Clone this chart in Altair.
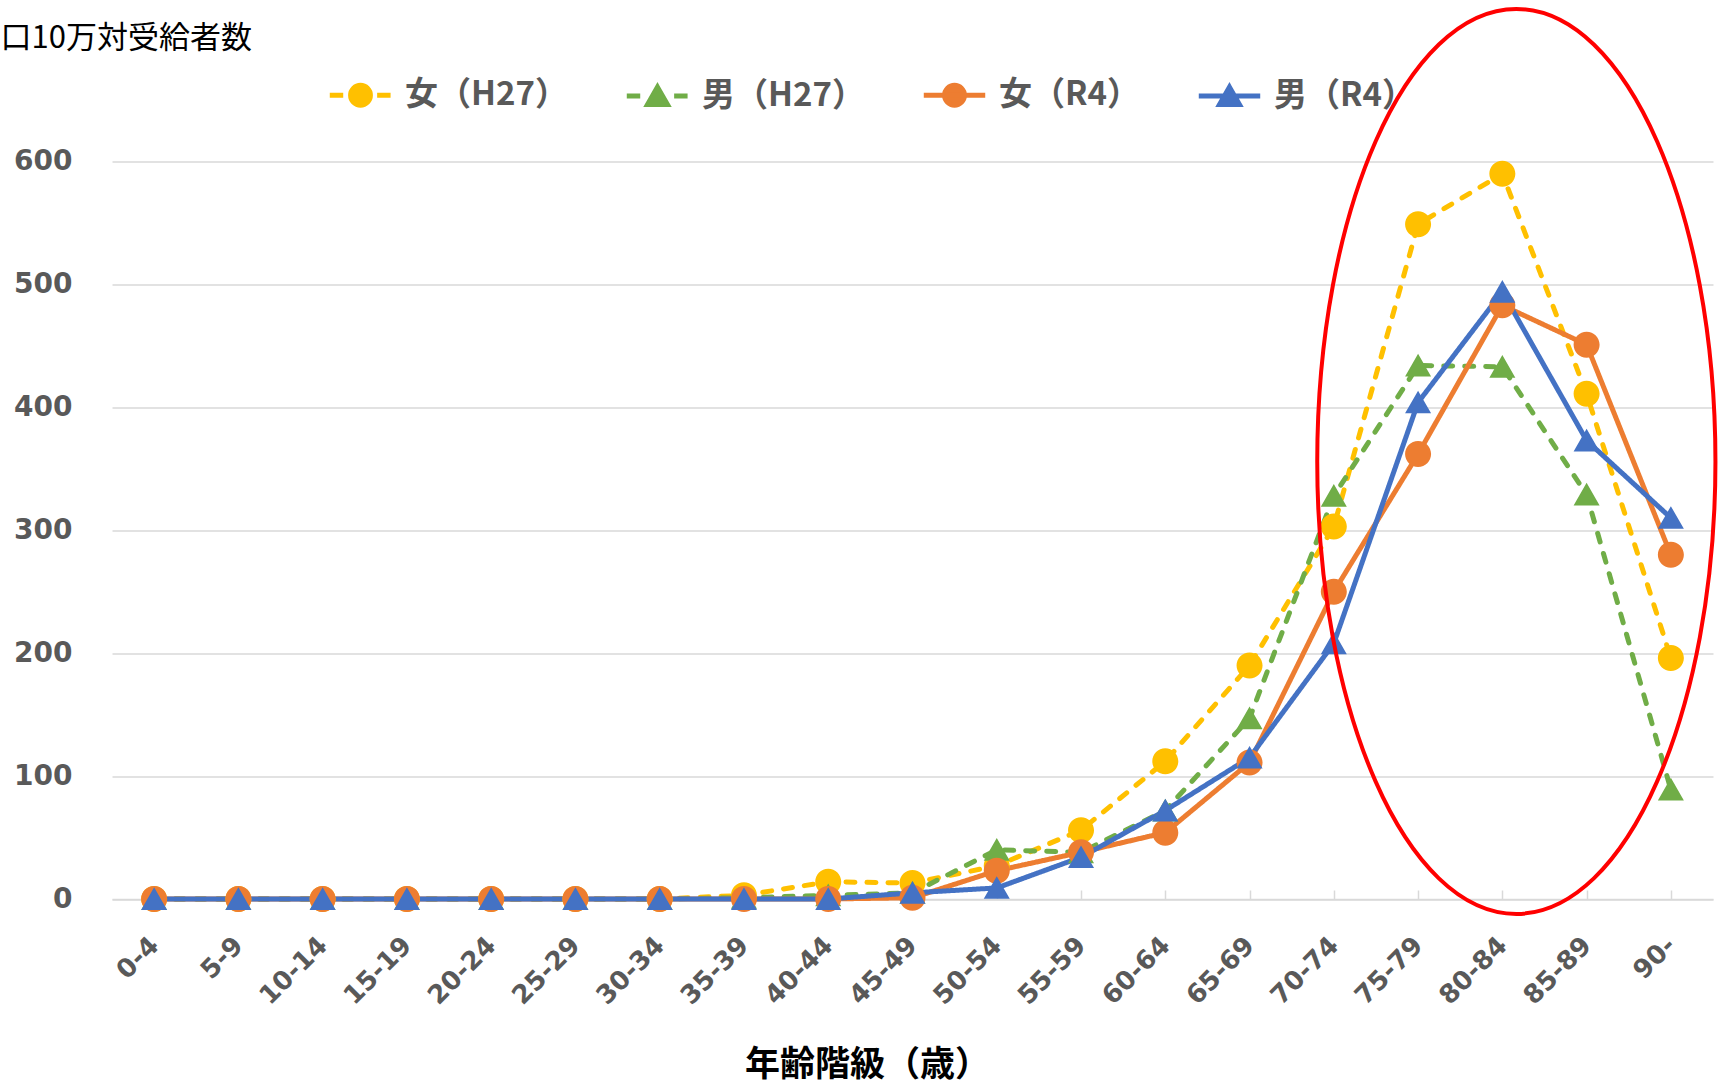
import altair as alt
import pandas as pd

# ---------------- data ----------------
ages = ["0-4", "5-9", "10-14", "15-19", "20-24", "25-29", "30-34", "35-39",
        "40-44", "45-49", "50-54", "55-59", "60-64", "65-69", "70-74",
        "75-79", "80-84", "85-89", "90-"]
series_names = ["女（H27）", "男（H27）", "女（R4）", "男（R4）"]
series_colors = ["#FFC000", "#70AD47", "#ED7D31", "#4472C4"]
series_dashes = [[9, 12], [9, 12], [1, 0], [1, 0]]

f_h27 = [0, 0, 0, 0, 0, 0, 0, 3, 14, 13, 27, 56, 112, 190, 303, 549, 590, 411, 196]
m_h27 = [0, 0, 0, 0, 0, 0, 0, 1, 3, 5, 40, 38, 72, 147, 328, 434, 433, 329, 89]
f_r4 = [0, 0, 0, 0, 0, 0, 0, 0, 0, 1, 23, 38, 54, 111, 250, 362, 483, 451, 280]
m_r4 = [0, 0, 0, 0, 0, 0, 0, 0, 0, 5, 9, 34, 72, 115, 208, 404, 494, 373, 310]

y_ticks = [0, 100, 200, 300, 400, 500, 600]

# annotation ellipse (centre in data units)
ellipse_age = "80-84"
ellipse_value = 356

y_title = "口10万対受給者数"
x_title = "年齢階級（歳）"

# ---------------- table ----------------
rows = []
for s, vals in zip(series_names, [f_h27, m_h27, f_r4, m_r4]):
    for i, (a, v) in enumerate(zip(ages, vals)):
        rows.append({"series": s, "age": a, "idx": i, "value": v})
df = pd.DataFrame(rows)
ell_df = pd.DataFrame({"age": [ellipse_age], "value": [ellipse_value]})

CJK = "Noto Sans CJK JP"
NUM = "DejaVu Sans"
GRAY = "#595959"
LIGHT = "#D9D9D9"

# ---------------- symbol paths (marker + legend line) ----------------
circ = ("M0.31,0C0.31,0.171 0.171,0.31 0,0.31C-0.171,0.31 -0.31,0.171 -0.31,0"
        "C-0.31,-0.171 -0.171,-0.31 0,-0.31C0.171,-0.31 0.31,-0.171 0.31,0Z")
tri = "M0,-0.28L0.31,0.26L-0.31,0.26Z"
dashed = "M-0.96,0L-0.54,0M0.52,0L0.94,0"
solid = "M-0.96,0L0.96,0"
symbol_paths = [dashed + circ, dashed + tri, solid + circ, solid + tri]

k = 0.5523
ex = 0.44
ellipse_path = (
    f"M0,-1C{ex*k:.4f},-1 {ex},{-k} {ex},0"
    f"C{ex},{k} {ex*k:.4f},1 0,1"
    f"C{-ex*k:.4f},1 {-ex},{k} {-ex},0"
    f"C{-ex},{-k} {-ex*k:.4f},-1 0,-1Z"
)

legend = alt.Legend(
    title=None,
    orient="none",
    legendX=214,
    legendY=-101,
    direction="horizontal",
    labelFont=CJK,
    labelFontSize=33,
    labelFontWeight="bold",
    labelColor=GRAY,
    labelLimit=400,
    labelOffset=10,
    columnPadding=48,
    padding=0,
    symbolSize=4096,
    symbolStrokeWidth=5,
    symbolOpacity=1,
)

# ---------------- scales / axes ----------------
x_scale = alt.Scale(type="point", domain=ages, padding=0.5)
y_scale = alt.Scale(domain=[0, 600], nice=False, zero=True)
color_scale = alt.Scale(domain=series_names, range=series_colors)
shape_scale = alt.Scale(domain=series_names, range=symbol_paths)

x_axis_main = alt.Axis(
    title=x_title,
    titleFont=CJK,
    titleFontSize=35,
    titleFontWeight="bold",
    titleColor="#000000",
    titleX=755,
    titleY=176,
    titleAlign="center",
    titleBaseline="alphabetic",
    labelAngle=-45,
    labelAlign="right",
    labelBaseline="middle",
    labelFont=NUM,
    labelFontSize=26,
    labelFontWeight="bold",
    labelColor=GRAY,
    labelPadding=42,
    labelOverlap=False,
    ticks=False,
    tickSize=0,
    domain=True,
    domainColor=LIGHT,
    domainWidth=1.5,
    grid=False,
    orient="bottom",
)

x_axis_ticks = alt.Axis(
    title=None,
    labels=False,
    domain=False,
    ticks=True,
    tickSize=9,
    tickColor=LIGHT,
    tickWidth=1.5,
    offset=-9,
    grid=False,
    orient="bottom",
)

y_axis = alt.Axis(
    title=y_title,
    titleAngle=0,
    titleX=-112,
    titleY=-123,
    titleAlign="left",
    titleBaseline="middle",
    titleFont=CJK,
    titleFontSize=31,
    titleFontWeight="normal",
    titleColor="#000000",
    values=y_ticks,
    labelFont=NUM,
    labelFontSize=28,
    labelFontWeight="bold",
    labelColor=GRAY,
    labelPadding=40,
    ticks=False,
    domain=False,
    grid=True,
    gridColor=LIGHT,
    gridWidth=1.5,
)

x_enc = alt.X("age:N", scale=x_scale, axis=x_axis_main)
y_enc = alt.Y("value:Q", scale=y_scale, axis=y_axis)

# one line layer per series (constant styles, so no extra legends)
line_layers = []
for s, c, d in zip(series_names, series_colors, series_dashes):
    line_layers.append(
        alt.Chart(df)
        .transform_filter(alt.datum.series == s)
        .mark_line(color=c, strokeWidth=5, strokeCap="round", strokeDash=d)
        .encode(x=x_enc, y=y_enc, order=alt.Order("idx:Q"))
    )

points = alt.Chart(df).mark_point(filled=True, opacity=1, size=7040).encode(
    x=x_enc,
    y=y_enc,
    fill=alt.Fill("series:N", scale=color_scale, legend=legend),
    stroke=alt.Stroke("series:N", scale=color_scale, legend=legend),
    shape=alt.Shape("series:N", scale=shape_scale, legend=legend),
    strokeWidth=alt.value(0),
)

ellipse = alt.Chart(ell_df).mark_point(
    shape=ellipse_path,
    size=819025,
    filled=False,
    color="#FF0000",
    stroke="#FF0000",
    strokeWidth=4,
    opacity=1,
    xOffset=14,
).encode(
    x=alt.X("age:N", scale=x_scale, axis=x_axis_ticks),
    y=y_enc,
)

chart = (
    alt.layer(alt.layer(*line_layers, points), ellipse)
    .resolve_axis(x="independent")
    .properties(
        width=1601,
        height=737.5,
        padding={"left": 112, "top": 161.5, "right": 10, "bottom": 188},
        autosize=alt.AutoSizeParams(type="none"),
        background="white",
    )
    .configure_view(stroke=None)
)

chart.save("out.html", embed_options={"renderer": "svg", "actions": False})
